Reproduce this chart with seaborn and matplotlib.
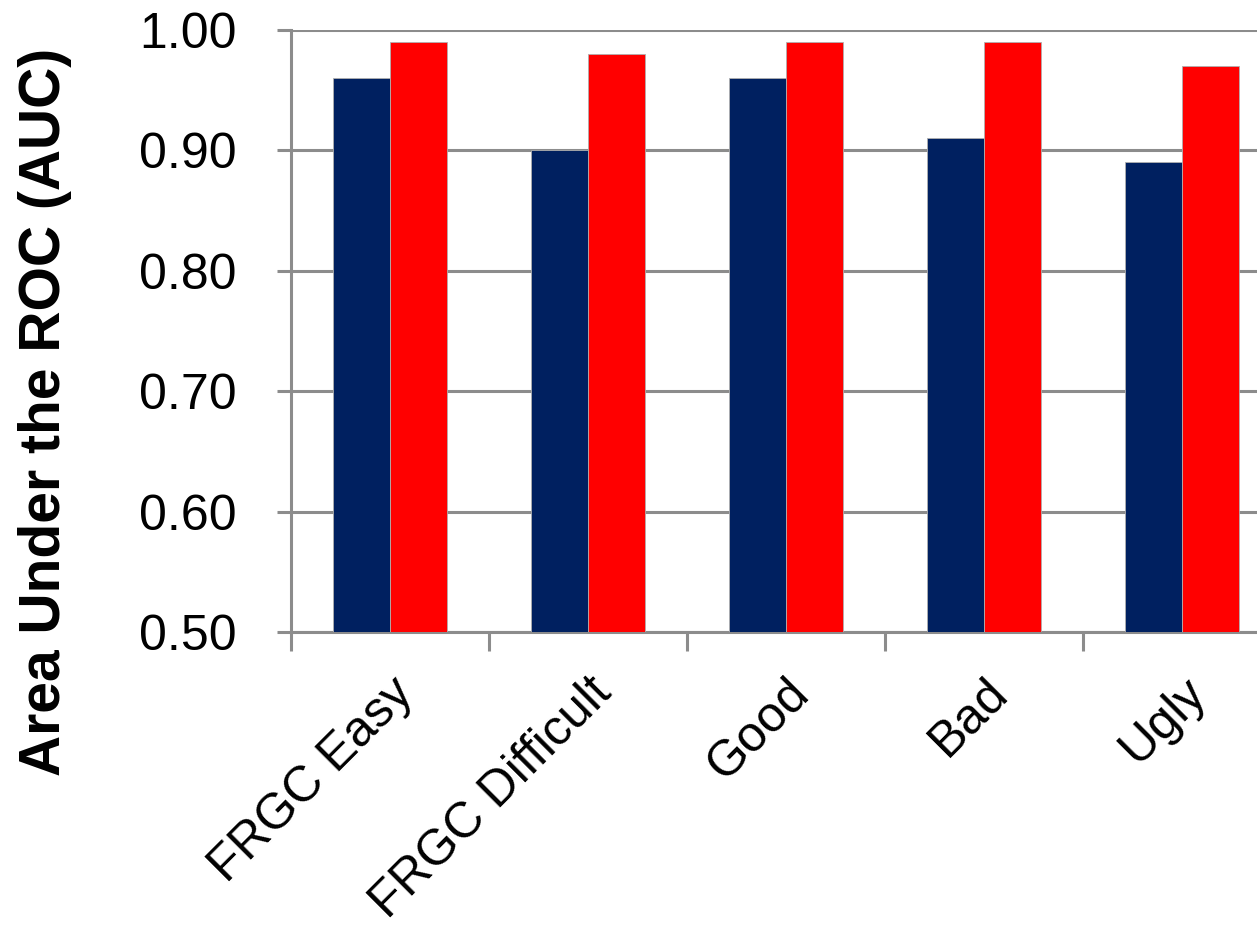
import matplotlib
matplotlib.use("Agg")
import matplotlib.pyplot as plt
import matplotlib.transforms as mtransforms
import seaborn as sns
import pandas as pd
from matplotlib.ticker import FixedLocator

categories = ["FRGC Easy", "FRGC Difficult", "Good", "Bad", "Ugly"]
baseline_auc = [0.96, 0.90, 0.96, 0.91, 0.89]
improved_auc = [0.99, 0.98, 0.99, 0.99, 0.97]
series_names = ["Baseline", "Improved"]
y_ticks = [0.50, 0.60, 0.70, 0.80, 0.90, 1.00]

df = pd.DataFrame({
    "category": categories * 2,
    "auc": baseline_auc + improved_auc,
    "series": [series_names[0]] * len(categories) + [series_names[1]] * len(categories),
})

sns.set_theme(style="white")
plt.rcParams["font.family"] = ["Liberation Sans", "DejaVu Sans"]

grey = "#8c8c8c"
fig = plt.figure(figsize=(12.57, 9.35), dpi=100)
ax = fig.add_axes([0.2315, 0.324, 0.7876, 0.644])

sns.barplot(data=df, x="category", y="auc", hue="series", order=categories,
            hue_order=series_names, palette=["#002060", "#ff0000"], saturation=1,
            width=0.58, gap=0, edgecolor="#b0b0b0", linewidth=0.6,
            legend=False, ax=ax, zorder=3)

ax.set_ylim(0.5, 1.0)
ax.set_xlim(-0.5, len(categories) - 0.5)
ax.set_yticks(y_ticks)
ax.set_yticklabels([f"{v:.2f}" for v in y_ticks], fontsize=36, color="black")
ax.yaxis.grid(True, color=grey, linewidth=2.2, zorder=0)
ax.set_axisbelow(True)

# category boundaries carry the tick marks; labels sit at the centres
ax.xaxis.set_minor_locator(FixedLocator([i - 0.5 for i in range(len(categories) + 1)]))
ax.set_xticks(range(len(categories)))
ax.set_xticklabels(categories, fontsize=36, rotation=45, ha="right",
                   rotation_mode="anchor", color="black")
shift = mtransforms.ScaledTranslation(-6 / 72, 0, fig.dpi_scale_trans)
for lbl in ax.get_xticklabels():
    lbl.set_transform(lbl.get_transform() + shift)
ax.tick_params(axis="x", which="major", bottom=True, length=0, pad=27)
ax.tick_params(axis="x", which="minor", bottom=True, length=14, width=2.2,
               color=grey, direction="out")
ax.tick_params(axis="y", left=True, length=10, width=2.2, color=grey,
               direction="out", pad=29)

for side in ["top", "right"]:
    ax.spines[side].set_visible(False)
for side in ["left", "bottom"]:
    ax.spines[side].set_color(grey)
    ax.spines[side].set_linewidth(2.2)

ax.set_xlabel("")
ax.set_ylabel("Area Under the ROC (AUC)", fontsize=41, fontweight="bold", color="black")
ax.yaxis.set_label_coords(-0.221, 0.365)

fig.savefig("out.png", dpi=100)
